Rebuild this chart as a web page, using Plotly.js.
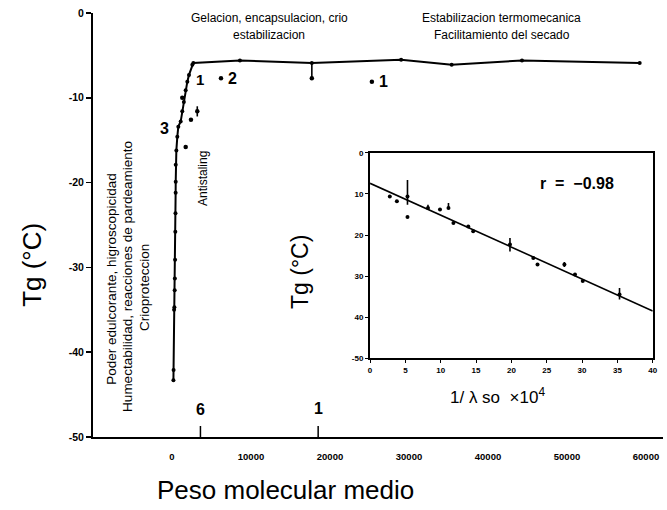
<!DOCTYPE html>
<html>
<head>
<meta charset="utf-8">
<script src="https://cdn.plot.ly/plotly-3.0.1.min.js"></script>
<style>html,body{margin:0;padding:0;background:#fff}#chart{width:667px;height:510px}</style>
</head>
<body>
<div id="chart"></div>
<script>
// ---- main curve: Tg' vs mean molecular weight ----
const mnCurve = [180, 200, 260, 300, 340, 360, 390, 420, 440, 460, 470, 470, 550, 670, 800, 1100, 1300, 1500, 1730, 1940, 2150, 2570, 2700, 8600, 17700, 29000, 35400, 44300, 59200];
const tgCurve = [-43.3, -42.1, -35.0, -34.7, -32.7, -31.3, -29.1, -25.8, -23.6, -21.2, -19.9, -17.9, -16.2, -14.6, -13.4, -12.8, -11.6, -10.5, -9.1, -8.1, -7.3, -6.1, -5.9, -5.6, -5.9, -5.5, -6.1, -5.6, -5.9];

// scattered points off the curve
const mnExtra = [1730, 1300, 3200, 2400, 6200, 17700, 25300];
const tgExtra = [-15.8, -10.0, -11.6, -12.6, -7.7, -7.7, -8.1];
const extraUp = [0, 0, 0.6, 0, 0, 1.8, 0];
const extraDown = [0, 0, 0.6, 0, 0, 0, 0];

// marks on the x axis (labelled 6 and 1)
const mnMarks = [3600, 18500];
const markLabels = ['6', '1'];

// main axis ticks
const xTickVals = [0, 10000, 20000, 30000, 40000, 50000, 60000];
const xTickText = ['0', '10000', '20000', '30000', '40000', '50000', '60000'];
const yTickVals = [0, -10, -20, -30, -40, -50];
const yTickText = ['0', '-10', '-20', '-30', '-40', '-50'];

// ---- inset: Tg' vs 1/lambda so x10^4 ----
const invX = [2.8, 3.8, 5.3, 5.3, 8.2, 9.9, 11.1, 11.8, 13.9, 14.6, 19.8, 23.1, 23.7, 27.5, 29.0, 30.1, 35.3];
const invY = [-10.6, -11.8, -10.6, -15.6, -13.4, -13.8, -13.4, -17.1, -17.9, -19.1, -22.3, -25.6, -27.2, -27.2, -29.6, -31.2, -34.5];
const invUp = [0, 0, 4.0, 0, 0.8, 0, 1.2, 0, 0, 0, 1.6, 0, 0, 0.6, 0, 0, 1.6];
const invDown = [0, 0, 2.0, 0, 0, 0, 0, 0, 0, 0, 1.7, 0, 0, 0.6, 0, 0, 1.2];
const fitX = [0, 40];
const fitY = [-7.4, -38.5];
const insetXTicks = [0, 5, 10, 15, 20, 25, 30, 35, 40];
const insetYTicks = [0, -10, -20, -30, -40, -50];
const insetYText = ['0', '10', '20', '30', '40', '-50'];

const F = 'Liberation Sans, Arial, sans-serif';
const black = '#000';

const traces = [
  {x: mnCurve, y: tgCurve, mode: 'lines+markers', line: {color: black, width: 2}, marker: {color: black, size: 4}, xaxis: 'x', yaxis: 'y', hoverinfo: 'skip'},
  {x: mnExtra, y: tgExtra, mode: 'markers', marker: {color: black, size: 4.5},
   error_y: {type: 'data', symmetric: false, array: extraUp, arrayminus: extraDown, width: 0, thickness: 1.6, color: black},
   xaxis: 'x', yaxis: 'y', hoverinfo: 'skip'},
  {x: mnMarks, y: mnMarks.map(() => -50), mode: 'markers', marker: {color: black, size: 1},
   error_y: {type: 'data', symmetric: false, array: mnMarks.map(() => 1.3), arrayminus: mnMarks.map(() => 0), width: 0, thickness: 1.5, color: black},
   xaxis: 'x', yaxis: 'y', hoverinfo: 'skip'},
  {x: fitX, y: fitY, mode: 'lines', line: {color: black, width: 1.6}, xaxis: 'x2', yaxis: 'y2', hoverinfo: 'skip'},
  {x: invX, y: invY, mode: 'markers', marker: {color: black, size: 4},
   error_y: {type: 'data', symmetric: false, array: invUp, arrayminus: invDown, width: 0, thickness: 1.6, color: black},
   xaxis: 'x2', yaxis: 'y2', hoverinfo: 'skip'}
];

function ann(text, x, y, size, opts) {
  return Object.assign({text: text, x: x, y: y, xref: 'paper', yref: 'paper', showarrow: false,
    xanchor: 'center', yanchor: 'middle', font: {family: F, size: size, color: black}}, opts || {});
}
function dann(text, x, y, size) {
  return {text: text, x: x, y: y, xref: 'x', yref: 'y', showarrow: false, xanchor: 'center', yanchor: 'middle',
    font: {family: F, size: size, color: black, weight: 'bold'}};
}

const annotations = [
  ann('Peso molecular medio', 0.337, -0.125, 26),
  ann('Tg (°C)', -0.107, 0.406, 26, {textangle: -90}),
  ann('Tg (°C)', 0.363, 0.389, 23, {textangle: -90}),
  ann('1/ λ so  ×10<sup>4</sup>', 0.709, 0.097, 17),
  ann('r  =  −0.98', 0.849, 0.599, 16, {font: {family: F, size: 16, color: black, weight: 'bold'}}),
  ann('Gelacion, encapsulacion, crio', 0.309, 0.988, 12),
  ann('estabilizacion', 0.309, 0.948, 12),
  ann('Estabilizacion termomecanica', 0.7175, 0.988, 12),
  ann('Facilitamiento del secado', 0.7175, 0.948, 12),
  ann('Poder edulcorante, higroscopicidad', 0.0333, 0.373, 13.5, {textangle: -90}),
  ann('Humectabilidad, reacciones de pardeamiento', 0.0614, 0.380, 13.5, {textangle: -90}),
  ann('Crioproteccion', 0.0912, 0.354, 13.5, {textangle: -90}),
  ann('Antistaling', 0.193, 0.6085, 12, {textangle: -90}),
  dann('3', -890, -13.6, 16),
  dann('1', 3540, -7.9, 15),
  dann('2', 7700, -7.7, 16),
  dann('1', 26800, -8.1, 16),
  dann(markLabels[0], mnMarks[0], -46.8, 16),
  dann(markLabels[1], mnMarks[1], -46.6, 16)
];

const tickFont = {family: F, size: 9.5, color: black, weight: 'bold'};

const layout = {
  width: 667, height: 510,
  margin: {l: 93, r: 4, t: 13, b: 73},
  paper_bgcolor: '#fff', plot_bgcolor: '#fff',
  showlegend: false,
  xaxis: {range: [-10000, 62150], tickvals: xTickVals, ticktext: xTickText, tickfont: tickFont,
    showline: true, linecolor: black, linewidth: 2, ticks: '', showgrid: false, zeroline: false,
    ticklabelstandoff: 10, fixedrange: true},
  yaxis: {range: [-50, 0], tickvals: yTickVals, ticktext: yTickText, tickfont: {family: F, size: 10.5, color: black, weight: 'bold'},
    showline: true, linecolor: black, linewidth: 2, ticks: 'outside', ticklen: 5, tickwidth: 1.5, tickcolor: black,
    showgrid: false, zeroline: false, fixedrange: true},
  xaxis2: {domain: [0.486, 0.982], anchor: 'y2', range: [0, 40], tickvals: insetXTicks, tickfont: {family: F, size: 8, color: black, weight: 'bold'},
    showline: true, mirror: true, linecolor: black, linewidth: 2, ticks: 'outside', ticklen: 3, tickcolor: black,
    showgrid: false, zeroline: false, fixedrange: true},
  yaxis2: {domain: [0.186, 0.670], anchor: 'x2', range: [-50, 0], tickvals: insetYTicks, ticktext: insetYText,
    tickfont: {family: F, size: 8, color: black, weight: 'bold'},
    showline: true, mirror: true, linecolor: black, linewidth: 2, ticks: 'outside', ticklen: 3, tickcolor: black,
    showgrid: false, zeroline: false, fixedrange: true},
  annotations: annotations
};

Plotly.newPlot('chart', traces, layout, {staticPlot: true, displayModeBar: false});
</script>
</body>
</html>
